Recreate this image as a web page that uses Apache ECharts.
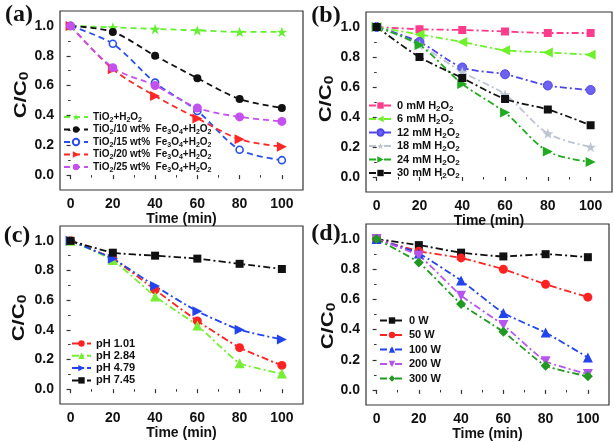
<!DOCTYPE html>
<html><head><meta charset="utf-8">
<script src="https://cdn.jsdelivr.net/npm/echarts@6/dist/echarts.min.js"></script>
<style>html,body{margin:0;padding:0;background:#fff}#c{width:614px;height:442px}</style>
</head><body><div id="c"></div>
<script>
// ---- data ----
const timeMin = [0, 20, 40, 60, 80, 100];
const xTicks = [0, 20, 40, 60, 80, 100];
const xMinor = [10, 30, 50, 70, 90];
const yTicks = [0, 0.2, 0.4, 0.6, 0.8, 1.0];
const yMinor = [0.1, 0.3, 0.5, 0.7, 0.9];

// panel (a)
const aNames = ['TiO₂+H₂O₂', 'TiO₂/10 wt%  Fe₃O₄+H₂O₂', 'TiO₂/15 wt%  Fe₃O₄+H₂O₂', 'TiO₂/20 wt%  Fe₃O₄+H₂O₂', 'TiO₂/25 wt%  Fe₃O₄+H₂O₂'];
const aTiO2 = [1.0, 0.99, 0.98, 0.97, 0.96, 0.96];
const aFe10 = [1.0, 0.96, 0.80, 0.65, 0.51, 0.45];
const aFe15 = [1.0, 0.88, 0.62, 0.43, 0.17, 0.10];
const aFe20 = [1.0, 0.71, 0.53, 0.38, 0.24, 0.19];
const aFe25 = [1.0, 0.72, 0.60, 0.45, 0.39, 0.36];

// panel (b)
const bNames = ['0 mM H₂O₂', '6 mM H₂O₂', '12 mM H₂O₂', '18 mM H₂O₂', '24 mM H₂O₂', '30 mM H₂O₂'];
const bH0 = [1.0, 0.985, 0.98, 0.97, 0.96, 0.96];
const bH6 = [1.0, 0.95, 0.90, 0.845, 0.83, 0.815];
const bH12 = [1.0, 0.90, 0.73, 0.685, 0.61, 0.58];
const bH18 = [1.0, 0.88, 0.70, 0.55, 0.29, 0.20];
const bH24 = [1.0, 0.88, 0.62, 0.43, 0.17, 0.10];
const bH30 = [1.0, 0.80, 0.66, 0.52, 0.45, 0.345];

// panel (c)
const cNames = ['pH 1.01', 'pH 2.84', 'pH 4.79', 'pH 7.45'];
const cPH101 = [1.0, 0.88, 0.67, 0.46, 0.28, 0.16];
const cPH284 = [1.0, 0.87, 0.625, 0.43, 0.175, 0.105];
const cPH479 = [1.0, 0.88, 0.695, 0.525, 0.40, 0.335];
const cPH745 = [1.0, 0.92, 0.90, 0.88, 0.845, 0.81];

// panel (d)
const dNames = ['0 W', '50 W', '100 W', '200 W', '300 W'];
const dW0 = [1.0, 0.96, 0.91, 0.885, 0.90, 0.88];
const dW50 = [1.0, 0.92, 0.875, 0.80, 0.70, 0.615];
const dW100 = [1.0, 0.905, 0.725, 0.51, 0.38, 0.215];
const dW200 = [1.0, 0.89, 0.625, 0.43, 0.19, 0.105];
const dW300 = [1.0, 0.845, 0.57, 0.385, 0.16, 0.09];

// ---- layout / style ----
const FONT = '"Liberation Sans", Arial, sans-serif';
const STAR = 'path://M50,0 L61.8,34.5 L97.6,34.5 L68.6,55.9 L79.4,90.5 L50,69.1 L20.6,90.5 L31.4,55.9 L2.4,34.5 L38.2,34.5 Z';
const grids = [
  {left: 60, top: 11, width: 243, height: 179},
  {left: 366, top: 12, width: 246, height: 180},
  {left: 60, top: 226, width: 243, height: 178},
  {left: 366, top: 224, width: 243, height: 181}
];
const tickColor = '#333';

const xAxes = [], yAxes = [];
grids.forEach((g, i) => {
  xAxes.push({
    gridIndex: i, type: 'value', min: -5, max: 110, position: 'bottom',
    axisLine: {show: false}, splitLine: {show: false},
    axisTick: {show: true, inside: false, length: 4, customValues: xTicks, lineStyle: {color: tickColor, width: 1.2}},
    axisLabel: {customValues: xTicks, margin: 7, fontSize: 14, fontWeight: 'bold', color: '#111', fontFamily: FONT},
    name: 'Time (min)', nameLocation: 'middle', nameGap: 20,
    nameTextStyle: {fontSize: 14, fontWeight: 'bold', color: '#111', fontFamily: FONT}
  });
  xAxes.push({
    gridIndex: i, type: 'value', min: -5, max: 110, position: 'bottom',
    axisLine: {show: false}, splitLine: {show: false}, axisLabel: {show: false},
    axisTick: {show: true, inside: false, length: 2.5, customValues: xMinor, lineStyle: {color: tickColor, width: 1}}
  });
  yAxes.push({
    gridIndex: i, type: 'value', min: -0.1, max: 1.1, position: 'left',
    axisLine: {show: false}, splitLine: {show: false},
    axisTick: {show: true, inside: false, length: 4, customValues: yTicks, lineStyle: {color: tickColor, width: 1.2}},
    axisLabel: {customValues: yTicks, margin: 6, fontSize: 14, fontWeight: 'bold', color: '#111', fontFamily: FONT,
      formatter: v => v.toFixed(1)}
  });
  yAxes.push({
    gridIndex: i, type: 'value', min: -0.1, max: 1.1, position: 'left',
    axisLine: {show: false}, splitLine: {show: false}, axisLabel: {show: false},
    axisTick: {show: true, inside: false, length: 2.5, customValues: yMinor, lineStyle: {color: tickColor, width: 1}}
  });
});

function mk(name, vals, g, color, symbol, size, rot, dash, smooth, extra) {
  extra = extra || {};
  return {
    type: 'line', name: name, xAxisIndex: 2 * g, yAxisIndex: 2 * g,
    data: timeMin.map((t, i) => [t, vals[i]]),
    smooth: smooth, symbol: symbol, symbolSize: size, symbolRotate: rot || 0, symbolKeepAspect: true,
    lineStyle: {color: color, width: 1.8, type: dash},
    itemStyle: {color: extra.fill || color, borderColor: extra.border || color, borderWidth: extra.bw || 0},
    emphasis: {disabled: true}, z: extra.z || 2
  };
}
const DASH = [6, 4];
const DDOT = [7, 3, 2, 3];

const series = [
  mk(aNames[0], aTiO2, 0, '#66ee33', STAR, 11, 0, DASH, 0.3),
  mk(aNames[1], aFe10, 0, '#111111', 'circle', 8, 0, DASH, 0.3),
  mk(aNames[2], aFe15, 0, '#2a4ff0', 'circle', 7, 0, DASH, 0.3, {fill: '#ffffff', bw: 1.6}),
  mk(aNames[3], aFe20, 0, '#ff2626', 'triangle', 10, -90, DASH, 0.3),
  mk(aNames[4], aFe25, 0, '#c450f0', 'circle', 9, 0, DASH, 0.3),

  mk(bNames[0], bH0, 1, '#ff3c8c', 'rect', 8, 0, DDOT, 0.3),
  mk(bNames[1], bH6, 1, '#6ef02a', 'triangle', 10, 90, DDOT, 0.3),
  mk(bNames[2], bH12, 1, '#4f45e6', 'circle', 9, 0, DDOT, 0.3, {fill: '#6b62f0', border: '#4f45e6', bw: 1}),
  mk(bNames[3], bH18, 1, '#bcc4d2', STAR, 11, 0, DDOT, 0.3),
  mk(bNames[4], bH24, 1, '#22aa22', 'triangle', 10, -90, DDOT, 0.3),
  mk(bNames[5], bH30, 1, '#111111', 'rect', 8, 0, DDOT, 0.3),

  mk(cNames[0], cPH101, 2, '#ff2222', 'circle', 9, 0, DDOT, 0.15),
  mk(cNames[1], cPH284, 2, '#77ee33', 'triangle', 10, 0, DDOT, 0.15),
  mk(cNames[2], cPH479, 2, '#2244ee', 'triangle', 10, -90, DDOT, 0.15),
  mk(cNames[3], cPH745, 2, '#111111', 'rect', 8, 0, DDOT, 0.15),

  mk(dNames[0], dW0, 3, '#111111', 'rect', 8, 0, DDOT, 0.15),
  mk(dNames[1], dW50, 3, '#ff2222', 'circle', 9, 0, DDOT, 0.15),
  mk(dNames[2], dW100, 3, '#2244ee', 'triangle', 10, 0, DDOT, 0.15),
  mk(dNames[3], dW200, 3, '#b555ee', 'triangle', 10, 180, DDOT, 0.15),
  mk(dNames[4], dW300, 3, '#229922', 'diamond', 10, 0, DDOT, 0.15)
];

// turn unicode subscripts into rich-text subscript tokens
const SUB = '₀₁₂₃₄₅₆₇₈₉';
function richName(name) {
  let out = '', buf = '', mode = null;
  for (const ch of name) {
    const k = SUB.indexOf(ch);
    const m = k >= 0 ? 's' : 'n';
    const c = k >= 0 ? String(k) : ch;
    if (m !== mode) { if (buf) out += '{' + mode + '|' + buf + '}'; buf = ''; mode = m; }
    buf += c;
  }
  if (buf) out += '{' + mode + '|' + buf + '}';
  return out;
}

function leg(names, left, top, iw, gap, fs, lh) {
  return {
    data: names, left: left, top: top, orient: 'vertical', padding: 0,
    itemWidth: iw, itemHeight: 8, itemGap: gap, selectedMode: false,
    formatter: richName,
    textStyle: {
      color: '#111',
      rich: {
        n: {fontSize: fs, fontWeight: 'bold', fontFamily: FONT, color: '#111', lineHeight: lh},
        s: {fontSize: Math.round(fs * 0.72), fontWeight: 'bold', fontFamily: FONT, color: '#111', lineHeight: 8, verticalAlign: 'bottom'}
      }
    }
  };
}

function yName(x, y) {
  return {type: 'text', x: x, y: y, rotation: Math.PI / 2, scaleX: 1.3,
    style: {
      text: '{c|C/C}{s|0}', align: 'center', verticalAlign: 'middle', fill: '#111',
      rich: {
        c: {fontSize: 17, fontWeight: 'bold', fontFamily: FONT, fill: '#111', lineHeight: 20},
        s: {fontSize: 12, fontWeight: 'bold', fontFamily: FONT, fill: '#111', lineHeight: 12, verticalAlign: 'bottom'}
      }
    }};
}
function letter(t, x, y) {
  return {type: 'text', x: x, y: y,
    style: {text: t, font: 'bold 24px "Liberation Serif", "Times New Roman", serif', fill: '#111', align: 'center', verticalAlign: 'middle'}};
}

const option = {
  backgroundColor: '#ffffff',
  animation: false,
  grid: grids.map(g => Object.assign({show: true, borderColor: '#333', borderWidth: 1.2, backgroundColor: 'transparent'}, g)),
  xAxis: xAxes,
  yAxis: yAxes,
  legend: [
    leg(aNames, 63, 112, 24, 1, 10, 13),
    leg(bNames, 368, 100, 23, 1, 11, 14),
    leg(cNames, 71, 338, 19, 1.3, 11, 12),
    leg(dNames, 379, 315, 24, 3.5, 11, 12)
  ],
  series: series,
  graphic: [
    yName(21, 95), yName(326, 99), yName(19, 318), yName(328, 326),
    letter('(a)', 19, 15), letter('(b)', 326, 16), letter('(c)', 17, 236), letter('(d)', 326, 234)
  ]
};
const chart = echarts.init(document.getElementById('c'));
chart.setOption(option);
</script>
</body></html>
